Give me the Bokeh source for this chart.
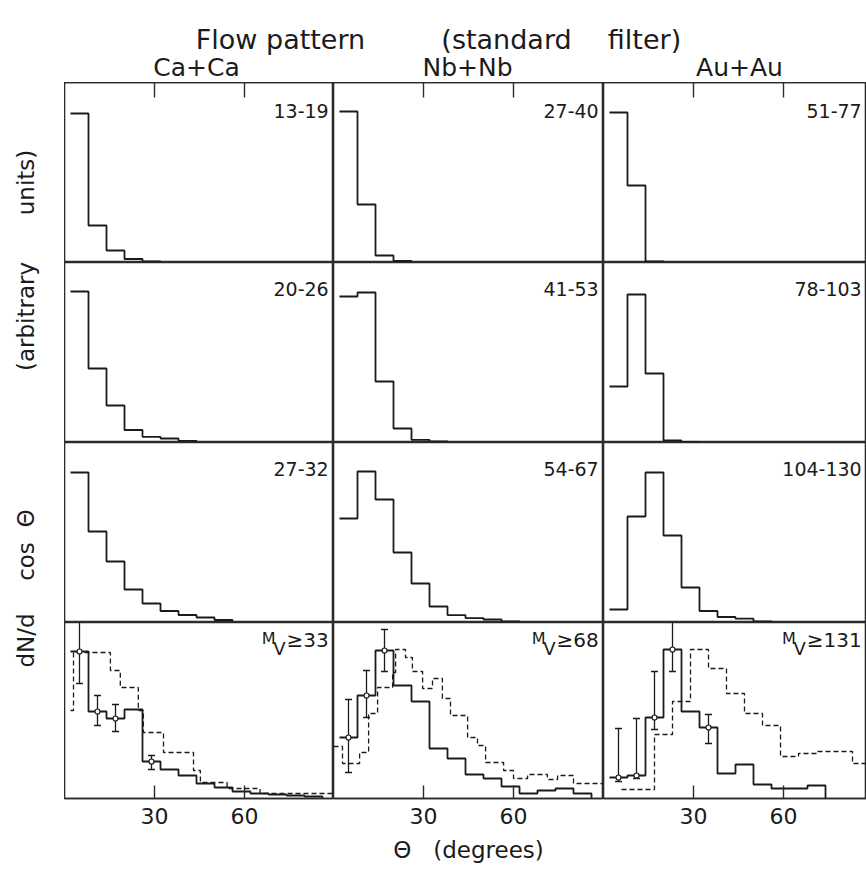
import math
from bokeh.plotting import figure
from bokeh.layouts import gridplot, column, row
from bokeh.models import (Range1d, LinearAxis, FixedTicker, Whisker, TeeHead,
                          ColumnDataSource, Label)
from bokeh.embed import file_html
from bokeh.resources import INLINE

# ------------------------------------------------------------------ data
title_words = ["Flow pattern", "(standard", "filter)"]
systems = ["Ca+Ca", "Nb+Nb", "Au+Au"]
x_ticks = [30, 60]
x_label = "\u0398\u00a0\u00a0\u00a0(degrees)"
y_label_words = ["units)", "(arbitrary", "\u0398", "cos", "dN/d"]

# multiplicity windows (rows) for each system (columns)
mult_bins = [["13-19", "27-40", "51-77"],
             ["20-26", "41-53", "78-103"],
             ["27-32", "54-67", "104-130"]]
mv_cuts = ["33", "68", "131"]          # last row: M_V >= cut

# theta bin edges (degrees) of the measured histograms
theta_edges = [2, 8, 14, 20, 26, 32, 38, 44, 50, 56, 62, 68, 74, 80, 86]

# dN/dcos(theta), arbitrary units
ca_13_19 = [149, 37, 12, 3.5, 1.2]
nb_27_40 = [151, 58, 7, 1.5]
au_51_77 = [150, 77, 1.2]

ca_20_26 = [151, 74, 37, 12.5, 5.7, 4, 1.7]
nb_41_53 = [146, 150, 61, 14, 2.7, 1]
au_78_103 = [56, 148, 69, 2, 0.7]

ca_27_32 = [150, 91, 61, 33, 19, 11.5, 7.5, 5, 2.5]
nb_54_67 = [104, 151, 123, 70, 39, 16, 7.4, 4.4, 3, 1]
au_104_130 = [13, 106, 150, 87, 35, 11.5, 5.5, 3.8, 1]

ca_mv33 = [147, 87, 80, 89, 37, 29, 23, 15, 11, 7, 5, 4, 3, 2]
nb_mv68 = [61, 103, 148, 113, 97, 50, 40, 24, 20, 12, 5, 8, 10, 5]
au_mv131 = [21, 23, 81, 149, 87, 71, 25, 34, 14, 10, 10, 13]

# error bars (bin index, lower, upper)
ca_mv33_err_bin = [0, 1, 2, 4]
ca_mv33_err_lo = [115, 73, 67, 29]
ca_mv33_err_hi = [185, 103, 94, 43]
nb_mv68_err_bin = [0, 1, 2]
nb_mv68_err_lo = [26, 81, 127]
nb_mv68_err_hi = [99, 128, 169]
au_mv131_err_bin = [0, 1, 2, 3, 5]
au_mv131_err_lo = [17, 20, 69, 127, 55]
au_mv131_err_hi = [70, 80, 127, 185, 84]

# dashed comparison histograms (last row)
ca_mv33_model_edges = [2, 3, 15.3, 18.6, 24.6, 26.3, 33, 43, 45.3, 54.2, 65.2, 90]
ca_mv33_model = [88, 146, 128, 111, 88, 66, 46, 28, 16, 10, 5]
nb_mv68_model_edges = [0, 3, 8.7, 11.7, 14.7, 19.7, 20.7, 24, 26.3, 29.7, 33, 36.3,
                       39, 44.7, 48, 50.7, 56.7, 60, 64.7, 71.3, 74.7, 80, 90]
nb_mv68_model = [52, 35, 46, 85, 111, 126, 149, 141, 127, 110, 120, 100, 83, 61,
                 53, 36, 28, 20, 24, 19, 23, 15]
au_mv131_model_edges = [6, 17, 23, 29, 35, 41, 47, 53, 59, 65, 71, 83, 90]
au_mv131_model = [9, 64, 97, 149, 130, 105, 85, 73, 42, 45, 47, 35]

# ------------------------------------------------------------------ layout / style
FONT = "DejaVu Sans"
INK = "#1b1b1b"
FRAME = "#2b2b2b"
PX_PER_DEG = 3
col_widths = [269, 270, 263]
row_heights = [180, 180, 180, 176]
TOP_H = 82
LEFT_W = 64
BOTTOM_H = 74

hist = [[ca_13_19, nb_27_40, au_51_77],
        [ca_20_26, nb_41_53, au_78_103],
        [ca_27_32, nb_54_67, au_104_130],
        [ca_mv33, nb_mv68, au_mv131]]
errs = [(ca_mv33_err_bin, ca_mv33_err_lo, ca_mv33_err_hi),
        (nb_mv68_err_bin, nb_mv68_err_lo, nb_mv68_err_hi),
        (au_mv131_err_bin, au_mv131_err_lo, au_mv131_err_hi)]
models = [(ca_mv33_model_edges, ca_mv33_model),
          (nb_mv68_model_edges, nb_mv68_model),
          (au_mv131_model_edges, au_mv131_model)]

ADV = {"0": .636, "1": .636, "2": .636, "3": .636, "4": .636, "5": .636,
       "6": .636, "7": .636, "8": .636, "9": .636, "\u2265": .838}


def text_w(s, size):
    return sum(ADV.get(ch, .6) for ch in s) * size


def lbl(p, x, y, text, size, align="center", angle=0.0, baseline="middle"):
    p.add_layout(Label(x=x, y=y, text=text, text_font=FONT, text_font_size=f"{size}px",
                       text_color=INK, text_align=align, text_baseline=baseline,
                       angle=angle))


def bare(w, h):
    p = figure(frame_width=w, frame_height=h, x_range=Range1d(0, w), y_range=Range1d(0, h),
               x_axis_type=None, y_axis_type=None, toolbar_location=None,
               output_backend="svg", min_border=0, outline_line_color=None)
    return p


grid = []
for r in range(4):
    cells = []
    for c in range(3):
        fw, fh = col_widths[c], row_heights[r]
        p = figure(frame_width=fw, frame_height=fh,
                   x_range=Range1d(0, fw / PX_PER_DEG), y_range=Range1d(0, fh),
                   x_axis_type=None, y_axis_type=None, toolbar_location=None,
                   output_backend="svg", min_border=0,
                   outline_line_color=FRAME, outline_line_width=1.6,
                   background_fill_color="white", border_fill_color="white")
        if r == 0:
            ax = LinearAxis(ticker=FixedTicker(ticks=x_ticks), major_tick_in=15,
                            major_tick_out=0, minor_tick_line_color=None,
                            major_label_text_font_size="1px", major_label_standoff=0,
                            major_label_text_color=None,
                            axis_line_color=FRAME, axis_line_width=1.6,
                            major_tick_line_color=FRAME, major_tick_line_width=1.4)
            p.add_layout(ax, "above")
        if r == 3:
            p.min_border_bottom = BOTTOM_H
            ax = LinearAxis(ticker=FixedTicker(ticks=x_ticks), major_tick_in=13,
                            major_tick_out=0, minor_tick_line_color=None,
                            major_label_text_font=FONT, major_label_text_font_size="22px",
                            major_label_text_color=INK, major_label_standoff=9,
                            axis_line_color=FRAME, axis_line_width=1.6,
                            major_tick_line_color=FRAME, major_tick_line_width=1.4)
            if c == 1:
                ax.axis_label = x_label
                ax.axis_label_text_font = FONT
                ax.axis_label_text_font_size = "23px"
                ax.axis_label_text_font_style = "normal"
                ax.axis_label_text_color = INK
                ax.axis_label_standoff = 10
            p.add_layout(ax, "below")

        vals = hist[r][c]
        xs = theta_edges[:len(vals) + 1]
        ys = list(vals) + [0]
        if r == 3:
            me, mv = models[c]
            p.step(x=me, y=list(mv) + [mv[-1]], mode="after", line_color=INK,
                   line_width=1.3, line_dash="5 3")
        p.step(x=xs, y=ys, mode="after", line_color=INK, line_width=1.8)

        xr = fw / PX_PER_DEG - 1.6
        if r < 3:
            ytop = fh - (28 if r == 0 else 26)
            lbl(p, xr, ytop, mult_bins[r][c], 19, align="right")
        else:
            eb, lo, hi = errs[c]
            src = ColumnDataSource(dict(
                x=[theta_edges[i] + 3 for i in eb],
                mid=[vals[i] for i in eb], lo=lo, hi=hi))
            p.add_layout(Whisker(source=src, base="x", upper="hi", lower="lo",
                                 line_color=INK, line_width=1.3,
                                 upper_head=TeeHead(size=7, line_color=INK, line_width=1.3),
                                 lower_head=TeeHead(size=7, line_color=INK, line_width=1.3)))
            p.scatter(x="x", y="mid", source=src, size=5, fill_color="white",
                      line_color=INK, line_width=1.2)
            cut = "\u2265" + mv_cuts[c]
            w = text_w(cut, 20)
            lbl(p, xr, fh - 17, cut, 20, align="right")
            lbl(p, xr - (w + 1) / PX_PER_DEG, fh - 26, "V", 18, align="right")
            lbl(p, xr - (w + 11) / PX_PER_DEG, fh - 15.5, "M", 16, align="right")
        cells.append(p)
    grid.append(cells)

panels = gridplot(grid, toolbar_location=None)

# title / column headers
top = bare(LEFT_W + sum(col_widths), TOP_H)
title_centers = [280, 506, 644]
for t, x in zip(title_words, title_centers):
    lbl(top, x, TOP_H - 39, t, 27)
header_centers = [196, 467, 739]
for t, x in zip(systems, header_centers):
    lbl(top, x, TOP_H - 67, t, 25)

# y axis label
side = bare(LEFT_W, sum(row_heights))
H = sum(row_heights)
ylab_centers = [182, 316, 518, 561, 640]
for t, wy in zip(y_label_words, ylab_centers):
    lbl(side, 25, H - (wy - TOP_H), t, 23, angle=math.pi / 2)

page = column(top, row(side, panels))

open("out.html", "w").write(file_html(page, INLINE))
